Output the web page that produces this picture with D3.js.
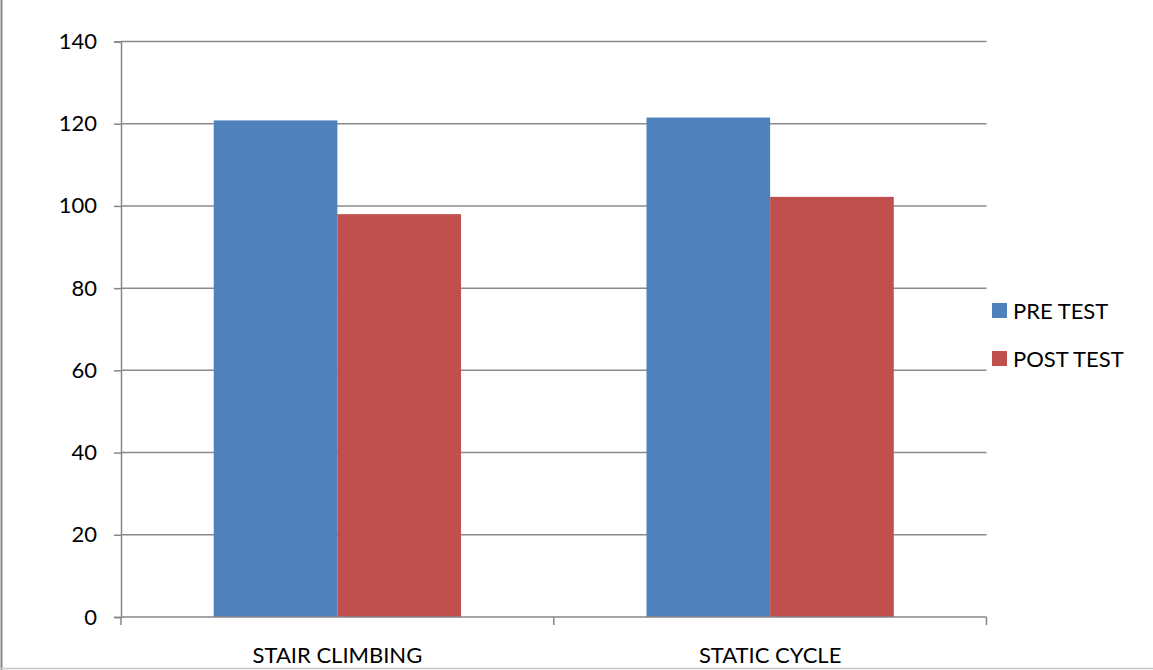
<!DOCTYPE html>
<html>
<head>
<meta charset="utf-8">
<script src="https://cdn.jsdelivr.net/npm/d3@7"></script>
<style>
  html, body { margin: 0; padding: 0; background: #fff; }
  svg { display: block; }
  text { font-family: Lato, "Open Sans", "Liberation Sans", sans-serif; fill: #000; }
</style>
</head>
<body>
<svg id="chart" width="1153" height="670"></svg>
<script>
// Data
const categories = ["STAIR CLIMBING", "STATIC CYCLE"];
const seriesNames = ["PRE TEST", "POST TEST"];
const preTest = [120.8, 121.5];
const postTest = [98.0, 102.2];
const yTicks = [0, 20, 40, 60, 80, 100, 120, 140];

const seriesValues = [preTest, postTest];
const colors = ["#4F81BD", "#C0504D"];

const svg = d3.select("#chart");
const W = 1153, H = 670;
const plot = { left: 121, right: 986.5, top: 41.5, bottom: 617 };
const fontSize = 22;

// Outer chart frame (left and bottom edges visible)
svg.append("line").attr("x1", 1.5).attr("x2", 1.5).attr("y1", 0).attr("y2", H)
  .attr("stroke", "#868686").attr("stroke-width", 2);
svg.append("line").attr("x1", 0).attr("x2", W).attr("y1", 668.5).attr("y2", 668.5)
  .attr("stroke", "#c8c8c8").attr("stroke-width", 1.5);

const x = d3.scaleBand().domain(categories).range([plot.left, plot.right]).paddingInner(0).paddingOuter(0);
const y = d3.scaleLinear().domain([0, 140]).range([plot.bottom, plot.top]);

// Gap width 150% of a bar: group = 2 bars, band = 2 bars + 1.5 bars
const barW = x.bandwidth() / 3.5;
const x1 = d3.scaleBand().domain(seriesNames).range([0, barW * 2]);

// Horizontal gridlines
svg.append("g").selectAll("line").data(yTicks.filter(d => d > 0)).join("line")
  .attr("x1", plot.left).attr("x2", plot.right)
  .attr("y1", d => y(d)).attr("y2", d => y(d))
  .attr("stroke", "#8a8a8a").attr("stroke-width", 1.5);

// Bars
const groups = svg.append("g").selectAll("g").data(categories).join("g")
  .attr("transform", c => `translate(${x(c) + barW * 0.75},0)`);
groups.selectAll("rect")
  .data((c, i) => seriesNames.map((s, j) => ({ s, v: seriesValues[j][i], color: colors[j] })))
  .join("rect")
  .attr("x", d => x1(d.s))
  .attr("width", x1.bandwidth())
  .attr("y", d => y(d.v))
  .attr("height", d => y(0) - y(d.v))
  .attr("fill", d => d.color);

// Y axis
const yAxis = d3.axisLeft(y).tickValues(yTicks).tickSize(7).tickPadding(17).tickFormat(d3.format("d"));
const gy = svg.append("g").attr("transform", `translate(${plot.left},0)`).call(yAxis);
gy.select(".domain").attr("stroke", "#868686").attr("stroke-width", 1.5);
gy.selectAll(".tick line").attr("stroke", "#868686").attr("stroke-width", 1.5);
gy.selectAll(".tick text").attr("font-size", fontSize).attr("font-family", "Lato, 'Open Sans', sans-serif").attr("fill", "#000");

// X axis: ticks at category boundaries
const xEdges = [plot.left, ...categories.map(c => x(c) + x.bandwidth())];
const gx = svg.append("g");
gx.append("line").attr("x1", plot.left).attr("x2", plot.right)
  .attr("y1", plot.bottom).attr("y2", plot.bottom)
  .attr("stroke", "#868686").attr("stroke-width", 1.5);
gx.selectAll("line.tick").data(xEdges).join("line").attr("class", "tick")
  .attr("x1", d => d).attr("x2", d => d)
  .attr("y1", plot.bottom).attr("y2", plot.bottom + 8)
  .attr("stroke", "#868686").attr("stroke-width", 1.5);
gx.selectAll("text").data(categories).join("text")
  .attr("x", c => x(c) + x.bandwidth() / 2)
  .attr("y", 663)
  .attr("text-anchor", "middle")
  .attr("font-size", fontSize)
  .text(c => c);

// Legend
const legend = svg.append("g").selectAll("g").data(seriesNames).join("g")
  .attr("transform", (d, i) => `translate(992,${303 + i * 48})`);
legend.append("rect").attr("width", 15).attr("height", 15).attr("fill", (d, i) => colors[i]);
legend.append("text").attr("x", 21).attr("y", 15.5).attr("font-size", fontSize).text(d => d);
</script>
</body>
</html>
